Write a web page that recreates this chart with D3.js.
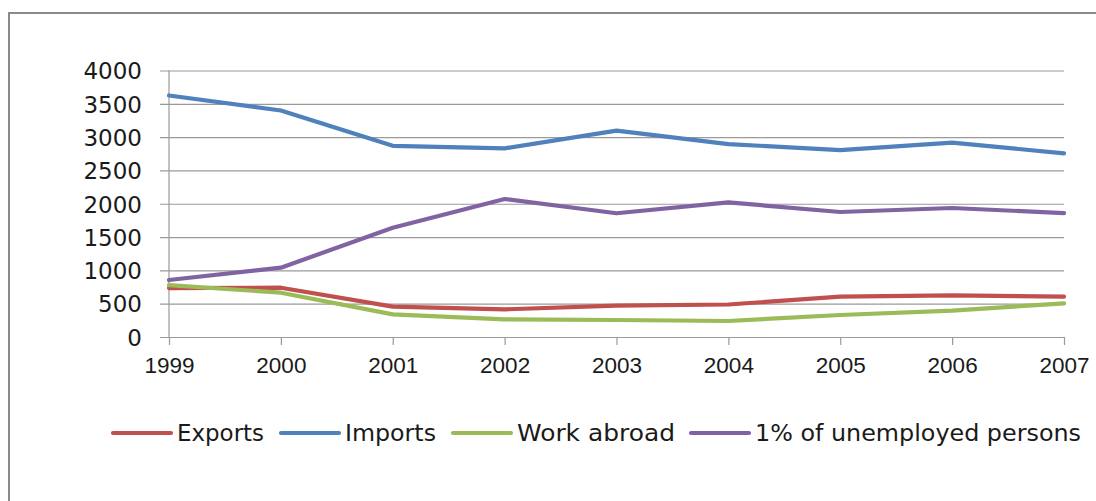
<!DOCTYPE html>
<html>
<head>
<meta charset="utf-8">
<script src="https://cdn.jsdelivr.net/npm/d3@7"></script>
<style>
  html, body { margin: 0; padding: 0; background: #fff; }
  svg { display: block; }
</style>
</head>
<body>
<svg id="chart" width="1096" height="501"></svg>
<script>
// Yearly figures per series
const years = [1999, 2000, 2001, 2002, 2003, 2004, 2005, 2006, 2007];
const exportsVals = [735, 740, 455, 415, 470, 488, 605, 625, 605];
const importsVals = [3625, 3400, 2870, 2832, 3097, 2895, 2806, 2917, 2757];
const workAbroadVals = [780, 665, 340, 265, 255, 240, 330, 395, 506];
const unemployedVals = [855, 1040, 1640, 2071, 1857, 2020, 1876, 1936, 1860];
const yTicks = [0, 500, 1000, 1500, 2000, 2500, 3000, 3500, 4000];

const seriesNames = ["Exports", "Imports", "Work abroad", "1% of unemployed persons"];
const seriesColors = ["#C0504D", "#4F81BD", "#9BBB59", "#8064A2"];
const series = [exportsVals, importsVals, workAbroadVals, unemployedVals].map((v, i) => ({
  name: seriesNames[i], color: seriesColors[i], values: v
}));

const svg = d3.select("#chart");

// Outer chart frame
svg.append("rect")
  .attr("x", 9).attr("y", 13)
  .attr("width", 1100).attr("height", 500)
  .attr("fill", "none")
  .attr("stroke", "#8a8a8a")
  .attr("stroke-width", 2);

const x = d3.scaleLinear().domain([1999, 2007]).range([169, 1064]);
const y = d3.scaleLinear().domain([0, 4000]).range([337, 70.5]);

// Horizontal gridlines with left tick stubs
const yAxis = d3.axisLeft(y)
  .tickValues(yTicks)
  .tickSize(0)
  .tickFormat(d => d);
const gy = svg.append("g").attr("transform", `translate(169,0)`);
gy.call(yAxis);
gy.select(".domain").remove();
gy.selectAll(".tick line")
  .attr("x1", -9).attr("x2", x(2007) - 169)
  .attr("stroke", "#9a9a9a").attr("stroke-width", 1.2);
gy.selectAll(".tick text")
  .attr("x", -27)
  .attr("dy", "0.36em")
  .attr("fill", "#1a1a1a")
  .style("font-family", "'DejaVu Sans', sans-serif")
  .style("font-size", "23px");

// Vertical axis line
svg.append("line")
  .attr("x1", 169).attr("x2", 169)
  .attr("y1", y(4000)).attr("y2", y(0))
  .attr("stroke", "#9a9a9a").attr("stroke-width", 1.2);

// Category axis at the bottom
const xAxis = d3.axisBottom(x)
  .tickValues(years)
  .tickSize(8)
  .tickSizeOuter(0)
  .tickFormat(d3.format("d"));
const gx = svg.append("g").attr("transform", `translate(0,${y(0)})`);
gx.call(xAxis);
gx.select(".domain").attr("stroke", "#9a9a9a").attr("stroke-width", 1.2);
gx.selectAll(".tick line").attr("stroke", "#9a9a9a").attr("stroke-width", 1.2);
gx.selectAll(".tick text")
  .attr("y", 36).attr("dy", 0)
  .attr("fill", "#1a1a1a")
  .style("font-family", "'Liberation Sans', Arial, sans-serif")
  .style("font-size", "22.5px");

// Series lines
const line = d3.line()
  .x((d, i) => x(years[i]))
  .y(d => y(d));

svg.append("g").selectAll("path")
  .data(series)
  .join("path")
  .attr("d", d => line(d.values))
  .attr("fill", "none")
  .attr("stroke", d => d.color)
  .attr("stroke-width", 4.2)
  .attr("stroke-linejoin", "round")
  .attr("stroke-linecap", "round");

// Legend: swatch line followed by the series name, laid out left to right
const legendX = [111, 279, 451, 689];
const legendTextW = [87, 91, 158, 326];
const ly = 433;
const legend = svg.append("g");
series.forEach((s, i) => {
  const lx = legendX[i];
  legend.append("line")
    .attr("x1", lx + 2).attr("x2", lx + 60)
    .attr("y1", ly).attr("y2", ly)
    .attr("stroke", s.color)
    .attr("stroke-width", 4.2)
    .attr("stroke-linecap", "round");
  legend.append("text")
    .attr("x", lx + 66).attr("y", ly)
    .attr("dy", "0.36em")
    .attr("fill", "#1a1a1a")
    .attr("textLength", legendTextW[i])
    .attr("lengthAdjust", "spacingAndGlyphs")
    .style("font-family", "'DejaVu Sans', sans-serif")
    .style("font-size", "23px")
    .text(s.name);
});
</script>
</body>
</html>
